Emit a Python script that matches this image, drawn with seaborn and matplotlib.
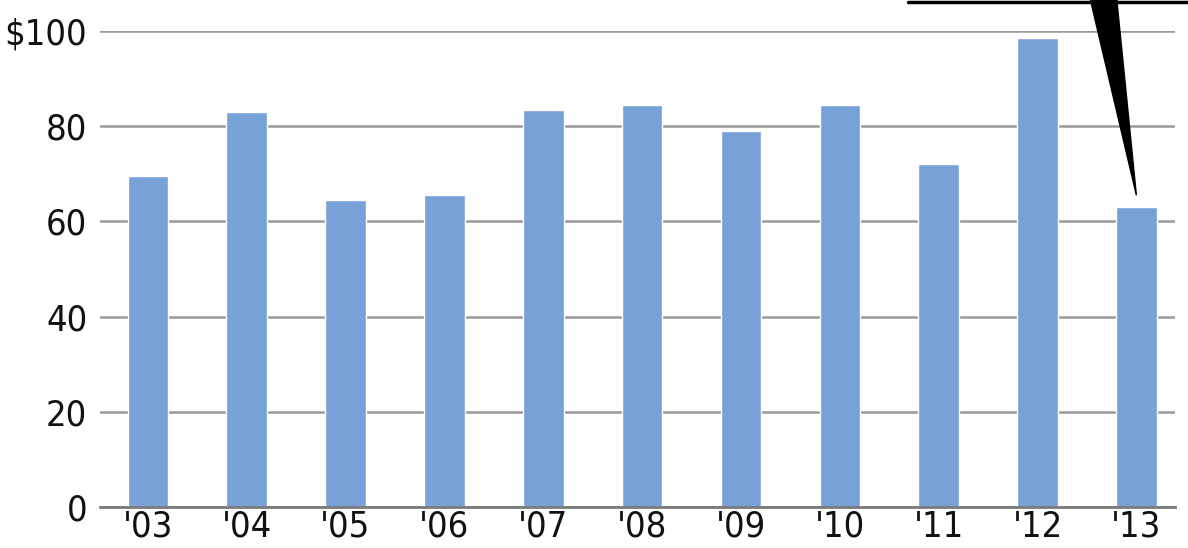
import matplotlib
matplotlib.use("Agg")
import matplotlib.pyplot as plt
import seaborn as sns
import pandas as pd
from matplotlib.patches import Polygon
from matplotlib.lines import Line2D
from matplotlib import font_manager

years = ["'03", "'04", "'05", "'06", "'07", "'08", "'09", "'10", "'11", "'12", "'13"]
values = [69.5, 83, 64.5, 65.5, 83.5, 84.5, 79, 84.5, 72, 98.5, 63]
yticks = [0, 20, 40, 60, 80, 100]
ytick_labels = ["0", "20", "40", "60", "80", "$100"]

df = pd.DataFrame({"year": years, "value": values})

sns.set_theme(style="white")
cond = [f for f in font_manager.fontManager.ttflist if 'Condensed' in f.fname and 'DejaVuSans' in f.fname]
if cond:
    plt.rcParams['font.family'] = ['DejaVu Sans']
    plt.rcParams['font.stretch'] = 'condensed'
else:
    plt.rcParams['font.family'] = ['Roboto', 'DejaVu Sans']

fig = plt.figure(figsize=(11.88, 5.48), dpi=100)
ax = fig.add_axes([0.084, 0.0748, 0.905, 0.8686])

sns.barplot(data=df, x="year", y="value", color="#78a1d8", saturation=1,
            width=0.41, ax=ax, zorder=3)

ax.set_ylim(0, 100)
ax.set_xlim(-0.486, 10.39)
ax.set_yticks(yticks)
ax.set_yticklabels(ytick_labels)
ax.yaxis.grid(True, color="#999999", linewidth=1.8, zorder=0)
ax.xaxis.grid(False)
for s in ["top", "right", "left"]:
    ax.spines[s].set_visible(False)
ax.spines["bottom"].set_color("#7a7a7a")
ax.spines["bottom"].set_linewidth(2)
ax.spines["bottom"].set_zorder(4)
ax.tick_params(axis="both", length=0, labelsize=26, colors="#111111")
ax.tick_params(axis="y", pad=9)
ax.tick_params(axis="x", pad=2)
ax.set_xlabel("")
ax.set_ylabel("")

# callout wedge pointing at the '13 bar
tip_x = 10
tip_y = values[-1] + 2.5
wedge = Polygon([[9.53, 107], [9.8, 107], [tip_x, tip_y]], closed=True,
                facecolor="black", edgecolor="black", clip_on=False, zorder=6)
ax.add_patch(wedge)

# top callout rule
fig.add_artist(Line2D([908 / 1188, 1.0], [1 - 1.5 / 548, 1 - 1.5 / 548],
                      color="black", linewidth=2.5))

fig.savefig("out.png", dpi=100)
